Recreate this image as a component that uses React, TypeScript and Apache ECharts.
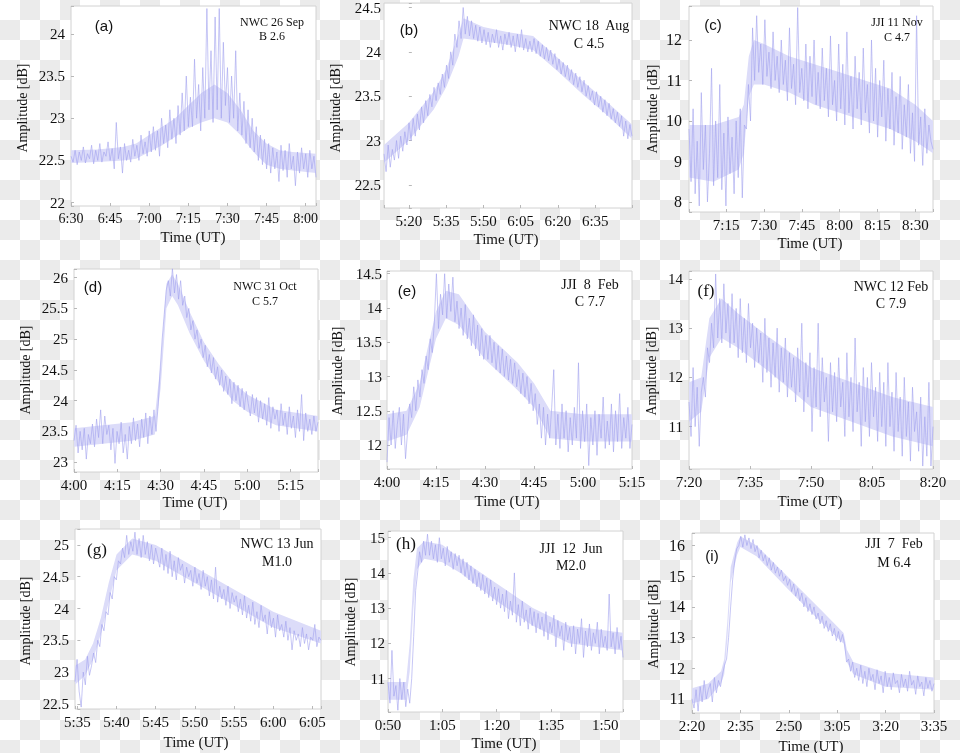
import React, { useEffect, useRef } from 'react';
import * as echarts from 'echarts';

// ---------- data ----------
const panelLetters = ['(a)', '(b)', '(c)', '(d)', '(e)', '(f)', '(g)', '(h)', '(i)'];
const stationDate = ['NWC 26 Sep', 'NWC 18  Aug', 'JJI 11 Nov', 'NWC 31 Oct', 'JJI  8  Feb', 'NWC 12 Feb', 'NWC 13 Jun', 'JJI  12  Jun', 'JJI  7  Feb'];
const flareClass = ['B 2.6', 'C 4.5', 'C 4.7', 'C 5.7', 'C 7.7', 'C 7.9', 'M1.0', 'M2.0', 'M 6.4'];

// time axis, minutes after 0:00 UT
const timeStart = [390, 310, 420.3, 240, 240, 440, 334.7, 50, 140];
const timeEnd = [484, 409.8, 517, 324.5, 315, 500, 366.1, 114.9, 215];
const timeTickOrigin = [390, 320, 420, 240, 240, 440, 335, 50, 140];
const timeTickStep = [15, 15, 15, 15, 15, 15, 5, 15, 15];

// amplitude axis, dB
const ampMin = [21.96, 22.24, 7.75, 22.84, 11.65, 10.14, 22.42, 10.05, 10.54];
const ampMax = [24.33, 24.55, 12.84, 26.14, 14.54, 14.16, 25.25, 15.19, 16.41];
const ampTickStep = [0.5, 0.5, 1, 0.5, 0.5, 1, 0.5, 1, 1];

// amplitude samples (evenly spaced in time over each panel's window)
const ampA = [
  22.55, 22.48, 22.62, 22.45, 22.6, 22.5, 22.66, 22.47, 22.58, 22.52, 22.68, 22.46, 22.62, 22.5, 22.7, 22.48, 22.6, 22.55, 22.72, 22.5, 22.64, 22.4, 22.95, 22.52, 22.66, 22.35,
  22.7, 22.5, 22.62, 22.48, 22.75, 22.55, 22.68, 22.5, 22.8, 22.58, 22.72, 22.55, 22.85,
  22.6, 22.9, 22.62, 22.85, 22.55, 23.0, 22.7, 22.92, 22.65, 23.1, 22.75, 23.0, 22.7,
  23.15, 22.8, 23.3, 22.85, 23.5, 22.9,
  23.25, 22.9, 23.7, 23.0, 23.4, 22.85,
  23.6, 23.0, 24.3, 23.1, 23.8, 22.95, 24.2,
  23.1, 24.3, 23.0, 23.9, 23.15, 23.6,
  22.95, 23.5, 23.0, 23.8, 22.85, 23.3,
  22.8, 23.2, 22.7, 23.1, 22.65, 23.0, 22.6,
  22.9, 22.5, 22.8, 22.45, 22.75, 22.4,
  22.7, 22.35, 22.65, 22.4, 22.6, 22.25, 22.68, 22.38, 22.62, 22.3, 22.7, 22.4, 22.55, 22.2, 22.6, 22.35, 22.65, 22.4, 22.58, 22.3, 22.62, 22.4, 22.55, 22.3,
];
const ampB = [
  22.85, 22.65, 22.95, 22.7, 22.9, 22.78, 23.0, 22.8, 23.05, 22.88, 23.1, 22.95, 23.2, 23.0, 23.25, 23.05, 23.3, 23.12, 23.38, 23.2, 23.45, 23.28, 23.52, 23.38, 23.6, 23.45, 23.65, 23.52, 23.75, 23.6,
  23.85, 23.7, 24.0, 23.85, 24.2, 24.05, 24.35, 24.15, 24.5,
  24.2, 24.4, 24.18, 24.35, 24.15, 24.3,
  24.12, 24.28, 24.1, 24.25, 24.08, 24.22, 24.05, 24.2, 24.1, 24.25, 24.05, 24.18, 24.02, 24.2, 24.08, 24.22, 24.05, 24.18, 24.0, 24.2, 24.05, 24.25, 24.02, 24.15, 24.0, 24.12,
  24.0, 24.15, 23.98, 24.12, 23.95, 24.08, 23.92, 24.05, 23.9, 24.02, 23.86, 23.98, 23.8,
  23.92, 23.75, 23.88, 23.72, 23.85, 23.68, 23.8, 23.63, 23.76, 23.6, 23.72, 23.55, 23.68, 23.5, 23.62, 23.46, 23.56,
  23.4, 23.55, 23.38, 23.5, 23.32, 23.46, 23.28, 23.42, 23.24, 23.36, 23.2, 23.32, 23.16, 23.28, 23.05, 23.22, 23.02, 23.18, 23.05,
];
const ampC = [
  9.8, 8.5, 10.3, 8.2, 9.5, 7.9, 10.7, 8.8, 9.9, 8.0, 9.2, 11.3, 8.4, 10.0, 8.6, 10.9, 8.3, 9.7, 7.9, 10.1, 8.7, 9.6, 8.2, 10.0, 8.6, 10.3, 8.1, 9.9,
  9.8, 10.9, 10.0, 12.3, 11.0,
  12.6, 11.2, 11.9, 10.9, 12.5, 11.1, 11.7, 10.8, 12.2, 11.0, 11.6, 10.7,
  12.0, 10.9, 11.5, 10.5, 12.3, 10.8, 11.4, 10.4, 12.8, 10.7, 11.3, 10.5, 11.9, 10.3, 11.6, 10.6, 12.0, 10.4, 11.2,
  10.3, 11.8, 10.5, 11.3, 10.1, 12.1, 10.4, 11.0, 10.0, 11.9, 10.3, 11.4, 9.9, 12.2, 10.2, 11.1, 9.8, 11.6, 10.3,
  11.2, 9.9, 11.8, 10.2, 10.9, 9.7, 12.0, 10.0, 11.3, 9.6, 11.0, 10.1, 11.5, 9.5, 10.8, 9.8, 11.2, 9.4, 10.6,
  9.7, 11.1, 9.3, 10.4, 9.6, 10.9, 9.2, 10.2, 9.0, 12.6, 9.4, 10.1, 8.9, 10.3, 9.2, 9.9, 9.5, 9.3,
];
const ampD = [
  23.35, 23.6, 23.15, 23.5, 23.2, 23.55, 23.05, 23.45, 23.3, 23.62, 23.25, 23.7, 23.4, 23.85, 23.3, 23.75, 23.45, 23.6, 23.2, 23.55, 22.98, 23.5, 23.3, 23.65, 23.15, 23.45, 23.05, 23.58, 23.3, 23.72, 23.35, 23.62, 23.25, 23.7, 23.4, 23.8, 23.3, 23.75, 23.45, 23.85, 23.5,
  23.9, 24.5, 25.0, 25.4, 25.8, 25.95,
  25.7, 26.15, 25.75, 26.05, 25.65, 25.95, 25.55,
  25.7, 25.35, 25.5, 25.15, 25.3, 25.0, 25.15, 24.85, 25.0, 24.7, 24.9, 24.55, 24.75,
  24.45, 24.7, 24.35, 24.55, 24.25, 24.5, 24.15, 24.4, 24.1, 24.35, 23.95, 24.3, 24.0, 24.25, 23.9, 24.2, 23.85, 24.15, 23.95,
  23.75, 24.1, 23.8, 24.05, 23.65, 24.0, 23.7, 23.95, 23.6, 24.05, 23.55, 23.9, 23.7, 23.85, 23.5, 23.95, 23.6, 23.8, 23.45, 23.9, 23.55, 23.75, 23.4, 23.85, 23.5, 24.1, 23.35, 23.8, 23.5, 23.7, 23.45, 23.75, 23.5, 23.65,
];
const ampE = [
  11.75, 12.4, 12.0, 12.5, 11.95, 12.3, 12.55, 12.0, 12.45, 11.8,
  12.2, 12.6, 12.4, 12.85, 12.5, 12.95, 12.7, 13.1, 12.9, 13.3, 13.1, 13.55, 13.35, 13.8,
  14.5, 13.7, 14.2, 13.9, 14.5, 13.85, 14.35, 13.95, 14.45, 13.8,
  14.1, 13.7, 14.0, 13.6, 14.05, 13.55, 13.85, 13.45, 13.9, 13.4, 13.75, 13.3, 13.7, 13.25, 13.6,
  13.25, 13.6, 13.2, 13.5, 13.1, 13.45, 13.05, 13.4, 13.0, 13.3, 12.95, 13.25, 12.9, 13.2, 12.85, 13.1, 12.75, 13.05, 12.7, 13.0, 12.6, 12.9, 12.5,
  12.75, 12.3, 12.6, 12.1, 12.55, 12.0, 12.45, 12.1,
  12.55, 13.1, 12.0, 12.45, 11.95, 12.6, 12.1, 12.5, 11.9, 12.4, 12.0, 12.55, 12.1, 13.2, 11.95, 12.5, 12.05, 12.6, 11.7, 12.4, 12.0, 12.5, 11.85, 12.45, 12.1, 12.7, 11.95, 12.35, 12.0, 12.6, 11.9, 12.5, 12.05, 12.75, 11.95, 12.4, 12.1, 12.55, 11.95, 12.3,
];
const ampF = [
  11.5, 10.8, 12.2, 11.0, 11.8, 10.6, 11.7,
  12.0, 11.6, 12.6, 12.3, 13.1,
  12.6, 14.1, 12.8, 13.6, 12.7, 13.9, 12.9, 13.5, 12.6, 13.7,
  12.7, 13.4, 12.4, 13.6, 12.5, 13.2, 12.3, 13.5, 12.6, 13.1,
  12.2, 13.0, 12.3, 12.9, 11.9, 13.2, 12.1, 12.8, 11.8, 12.7, 12.0, 13.0, 11.7, 12.6, 11.9, 12.8, 11.6, 12.5, 11.8, 12.4,
  11.5, 12.6, 11.7, 13.1, 11.3, 12.3, 11.6, 12.5, 10.9, 12.2, 11.4, 13.1, 11.2, 12.4, 11.5, 12.0, 10.7, 12.3, 11.3, 12.1,
  11.1, 12.4, 11.4, 11.9, 10.8, 12.5, 11.2, 12.0, 10.9, 12.8, 11.3, 11.9, 10.6, 12.2, 11.1, 12.0, 10.8, 12.3, 11.2, 11.8, 10.7, 12.1, 11.0, 11.9,
  10.6, 12.3, 11.0, 11.7, 10.5, 12.1, 10.9, 11.6, 10.4, 12.0, 10.8, 11.5, 10.3, 11.8, 10.9, 11.3, 10.5, 11.6, 10.2, 11.2, 10.4, 11.9, 10.2, 11.0,
];
const ampG = [
  22.85, 23.2, 22.7, 22.45, 23.0, 22.8, 23.25, 22.95, 23.1,
  23.3, 23.15, 23.5, 23.4, 23.75, 23.65,
  23.95, 23.9, 24.25, 24.15, 24.5, 24.45, 24.75,
  24.7, 24.95, 24.8, 25.15, 24.85, 25.05, 24.9, 25.2, 24.85, 25.1, 24.8, 25.15, 24.85, 25.05, 24.75, 25.0, 24.7, 24.95, 24.8,
  24.65, 24.95, 24.6, 24.85, 24.55, 24.9, 24.5, 24.75, 24.45, 24.8, 24.6, 24.7, 24.4, 24.65, 24.5, 24.6, 24.35, 24.65, 24.4, 24.55,
  24.3, 24.6, 24.35, 24.5, 24.2, 24.45, 24.15, 24.65, 24.1, 24.35, 24.15, 24.3, 24.05, 24.35, 24.0, 24.25, 24.1, 24.2, 23.95, 24.15,
  23.9, 24.2, 23.85, 24.05, 23.8, 24.1, 23.75, 23.95, 23.7, 24.05, 23.8, 23.9, 23.6, 23.95, 23.7, 23.85, 23.55, 23.9, 23.65, 23.75,
  23.55, 23.8, 23.5, 23.7, 23.35, 23.65, 23.5, 23.6, 23.4, 23.7, 23.45, 23.6, 23.35, 23.55, 23.5, 23.75, 23.4, 23.55, 23.5,
];
const ampH = [
  10.9, 10.3, 11.8, 10.5, 10.8, 10.1, 11.0, 10.4, 10.9, 10.2, 10.7, 10.3,
  11.0, 12.2, 13.5,
  14.0, 14.6, 14.3, 14.9, 14.5, 15.1,
  14.5, 14.9, 14.4, 14.8, 14.3, 15.0, 14.4, 14.7, 14.2, 14.75, 14.3, 14.6, 14.1, 14.55, 14.2, 14.5, 14.0, 14.4,
  13.9, 14.3, 13.8, 14.2, 13.7, 14.1, 13.6, 14.0, 13.5, 13.95, 13.4, 13.85, 13.3, 13.8, 13.2, 13.6, 13.1, 13.55,
  13.0, 13.4, 12.9, 13.5, 12.7, 13.2, 12.8, 14.0, 12.6, 13.1, 12.5, 13.2, 12.6, 12.95, 12.4, 13.0, 12.5, 12.9,
  12.3, 12.85, 12.4, 12.75, 12.2, 12.9, 12.1, 12.6, 12.3, 12.8, 11.9, 12.65, 12.2, 12.5, 11.8, 12.6, 12.1, 12.45, 11.9,
  12.5, 11.7, 12.4, 12.0, 12.7, 11.6, 12.35, 11.9, 12.55, 11.8, 12.3, 12.0, 12.6, 11.7, 12.4, 11.9, 12.2, 11.8, 13.4, 11.9, 12.3, 11.7, 12.45, 11.85, 12.2, 11.6,
];
const ampI = [
  11.0, 10.7, 11.3, 10.6, 11.4, 10.9, 11.6, 11.0, 11.3, 11.5, 10.9, 11.7, 11.2, 11.6, 11.4,
  11.8, 12.1, 12.3, 13.0,
  14.0, 14.9, 15.5, 15.9, 16.0,
  16.3, 15.95, 16.35, 16.0, 16.25, 15.9, 16.2, 15.8,
  16.0, 15.6, 15.85, 15.5, 15.7, 15.35, 15.6, 15.2, 15.45, 15.1, 15.3, 15.0,
  15.2, 14.85, 15.0, 14.7, 14.9, 14.5, 14.75, 14.35, 14.6, 14.2, 14.45, 14.0, 14.3, 13.85, 14.1, 13.75,
  14.0, 13.6, 13.8, 13.45, 13.7, 13.3, 13.55, 13.2, 13.45, 13.05, 13.3, 12.9, 13.2, 12.85, 13.1, 12.8, 12.2, 12.3, 11.9,
  12.2, 11.7, 12.0, 11.6, 12.1, 11.5, 11.9, 11.4, 12.0, 11.6, 11.8, 11.3, 11.95, 11.5, 11.75, 11.2, 11.9, 11.4, 11.7, 11.3, 11.85, 11.5, 11.6, 11.2, 11.8, 11.4, 11.65, 11.25, 11.9, 11.45, 11.6, 11.15, 11.75, 11.4, 11.55, 11.1, 11.7, 11.35, 11.6, 11.25, 11.5,
];
const amplitudes = [ampA, ampB, ampC, ampD, ampE, ampF, ampG, ampH, ampI];

// dense core of the noisy trace (band envelope)
const bandTime = [
  [390, 400, 410, 415, 420, 425, 430, 435, 440, 445, 450, 455, 460, 465, 470, 475, 484],
  [310, 320, 330, 335, 340, 342, 350, 360, 370, 380, 390, 400, 409.8],
  [420.3, 430, 440, 442, 444, 446, 450, 460, 470, 480, 490, 500, 510, 517],
  [240, 250, 260, 268, 270, 272, 274, 276, 280, 285, 290, 295, 300, 310, 324.5],
  [240, 246, 250, 255, 258, 262, 270, 280, 285, 290, 300, 315],
  [440, 443, 445, 448, 452, 460, 470, 480, 490, 500],
  [334.7, 336, 337, 338, 339, 340, 342, 345, 350, 355, 360, 366.1],
  [50, 55, 56, 57, 58, 60, 65, 70, 80, 90, 100, 114.9],
  [140, 145, 149, 150, 151, 152, 154, 155, 160, 170, 180, 187, 188, 190, 200, 215],
];
const bandLow = [
  [22.47, 22.48, 22.5, 22.52, 22.6, 22.68, 22.78, 22.88, 22.95, 23.0, 22.95, 22.8, 22.6, 22.45, 22.4, 22.38, 22.35],
  [22.75, 23.0, 23.35, 23.6, 23.95, 24.15, 24.12, 24.08, 24.02, 23.78, 23.52, 23.28, 23.02],
  [8.6, 8.5, 8.8, 9.2, 10.6, 10.9, 10.9, 10.7, 10.4, 10.2, 10.0, 9.8, 9.5, 9.2],
  [23.25, 23.3, 23.35, 23.45, 24.2, 25.5, 25.7, 25.55, 25.1, 24.65, 24.3, 24.0, 23.82, 23.6, 23.5],
  [12.05, 12.15, 12.55, 13.55, 13.85, 13.75, 13.25, 12.8, 12.55, 12.1, 12.05, 12.05],
  [11.1, 11.3, 12.4, 12.8, 12.6, 12.1, 11.4, 11.1, 10.8, 10.6],
  [22.8, 22.95, 23.2, 23.6, 24.1, 24.6, 24.85, 24.75, 24.4, 24.05, 23.7, 23.45],
  [10.4, 10.4, 11.2, 13.0, 14.1, 14.4, 14.3, 14.0, 13.2, 12.5, 12.0, 11.8],
  [10.85, 11.0, 11.5, 11.8, 13.0, 14.8, 15.7, 15.95, 15.65, 14.55, 13.5, 12.8, 12.2, 11.8, 11.4, 11.3],
];
const bandHigh = [
  [22.62, 22.63, 22.66, 22.7, 22.8, 22.9, 23.0, 23.15, 23.3, 23.4, 23.3, 23.1, 22.85, 22.7, 22.62, 22.6, 22.58],
  [22.95, 23.2, 23.55, 23.8, 24.2, 24.38, 24.28, 24.22, 24.18, 23.93, 23.67, 23.43, 23.18],
  [9.9, 9.9, 10.1, 10.4, 11.6, 12.0, 11.9, 11.6, 11.4, 11.2, 11.0, 10.8, 10.4, 10.0],
  [23.55, 23.6, 23.65, 23.75, 24.6, 25.9, 26.05, 25.9, 25.45, 24.95, 24.6, 24.3, 24.1, 23.85, 23.75],
  [12.45, 12.5, 12.9, 13.95, 14.25, 14.2, 13.65, 13.2, 12.9, 12.5, 12.45, 12.45],
  [11.9, 12.0, 13.2, 13.6, 13.3, 12.8, 12.2, 11.9, 11.6, 11.4],
  [23.1, 23.2, 23.45, 23.85, 24.4, 24.85, 25.1, 25.0, 24.65, 24.3, 23.95, 23.65],
  [10.9, 10.9, 12.0, 13.8, 14.7, 14.9, 14.8, 14.4, 13.7, 13.0, 12.5, 12.3],
  [11.35, 11.5, 11.9, 12.3, 13.6, 15.3, 16.1, 16.3, 16.0, 14.95, 13.9, 13.15, 12.6, 12.2, 11.85, 11.7],
];

// ---------- layout (pixels) ----------
const gridBoxes = [
  { left: 71, top: 6, width: 245, height: 200 },
  { left: 384, top: 1, width: 248, height: 207 },
  { left: 689, top: 6, width: 244, height: 206 },
  { left: 74, top: 269, width: 244, height: 203 },
  { left: 387, top: 271, width: 245, height: 198 },
  { left: 689, top: 271, width: 244, height: 198 },
  { left: 75, top: 529, width: 246, height: 180 },
  { left: 388, top: 531, width: 235, height: 181 },
  { left: 692, top: 533, width: 242, height: 180 },
];
const yLabelMargin = [6, 3, 7, 6, 5, 6, 6, 3, 7];
const yLabelSize = [15, 15, 16, 15, 15, 15, 15, 15, 16];
const xLabelSize = [14, 15, 15, 15, 15, 15, 15, 15, 15];
const yTitlePos = [[22, 108], [335, 108], [652, 109], [25, 370], [337, 371], [651, 371], [25, 621], [350, 622], [653, 624]];
const xTitlePos = [[193, 237], [506, 239], [810, 243], [195, 502], [507, 501], [810, 501], [196, 742], [504, 743], [811, 746]];
const letterPos = [[104, 25], [409, 29], [713, 24], [93, 286], [407, 290], [706, 290], [97, 549], [406, 543], [712, 555]];
const letterSerif = [false, false, false, false, false, true, true, true, false];
const notePos = [[272, 22, 36, 12], [589, 25, 43, 14], [897, 22, 37, 12], [265, 286, 301, 12], [590, 284, 301, 14], [891, 286, 303, 14], [277, 543, 561, 14], [571, 548, 565, 14], [894, 543, 562, 14]];

const SERIF = '"Liberation Serif", "Times New Roman", serif';
const SANS = '"Liberation Sans", Arial, sans-serif';
const TRACE = '#a0a0ee';
const BAND = '#dcdcf9';

function fmtTime(origin: number, step: number) {
  return (v: number) => {
    const r = Math.round(v);
    if (Math.abs(v - r) > 1e-6 || r % step !== 0) return '';
    const t = r + origin;
    const h = Math.floor(t / 60);
    const m = t % 60;
    return h + ':' + String(m).padStart(2, '0');
  };
}
function fmtAmp(step: number) {
  return (v: number) => {
    const k = v / step;
    if (Math.abs(k - Math.round(k)) > 1e-6) return '';
    return String(Math.round(v * 10) / 10);
  };
}

function textEl(x: number, y: number, text: string, size: number, family: string, rotate = 0) {
  return {
    type: 'text',
    x,
    y,
    rotation: rotate,
    silent: true,
    z: 10,
    style: {
      text,
      fontSize: size,
      fontFamily: family,
      fill: '#111',
      align: 'center',
      verticalAlign: 'middle',
      textAlign: 'center',
      textVerticalAlign: 'middle',
    },
  };
}

export default function App() {
  const ref = useRef<HTMLDivElement>(null);
  useEffect(() => {
    if (!ref.current) return;
    const chart = echarts.init(ref.current, undefined, { renderer: 'svg' });
    const n = amplitudes.length;
    const grids = gridBoxes.map((g) => ({
      ...g,
      show: true,
      borderColor: '#d2d2d2',
      borderWidth: 1,
      backgroundColor: '#ffffff',
    }));
    const xAxes = amplitudes.map((_, i) => ({
      gridIndex: i,
      type: 'value',
      min: timeStart[i] - timeTickOrigin[i],
      max: timeEnd[i] - timeTickOrigin[i],
      minInterval: timeTickStep[i],
      maxInterval: timeTickStep[i],
      axisLine: { show: false },
      axisTick: { show: true, inside: true, length: 3, lineStyle: { color: '#b8b8b8' } },
      splitLine: { show: false },
      axisLabel: {
        margin: 5,
        fontSize: xLabelSize[i],
        fontFamily: SERIF,
        color: '#111',
        showMinLabel: true,
        showMaxLabel: true,
        formatter: fmtTime(timeTickOrigin[i], timeTickStep[i]),
      },
    }));
    const yAxes = amplitudes.map((_, i) => ({
      gridIndex: i,
      type: 'value',
      min: ampMin[i],
      max: ampMax[i],
      minInterval: ampTickStep[i],
      maxInterval: ampTickStep[i],
      axisLine: { show: false },
      axisTick: { show: true, inside: true, length: 3, lineStyle: { color: '#b8b8b8' } },
      splitLine: { show: false },
      axisLabel: {
        margin: yLabelMargin[i],
        fontSize: yLabelSize[i],
        fontFamily: SERIF,
        color: '#111',
        showMinLabel: true,
        showMaxLabel: true,
        formatter: fmtAmp(ampTickStep[i]),
      },
    }));
    const series: any[] = [];
    for (let i = 0; i < n; i++) {
      const o = timeTickOrigin[i];
      const bt = bandTime[i];
      const bandData = bt.map((t, k) => [t - o, bandLow[i][k], bandHigh[i][k]]);
      series.push({
        type: 'custom',
        xAxisIndex: i,
        yAxisIndex: i,
        silent: true,
        z: 2,
        encode: { x: 0, y: [1, 2] },
        data: bandData,
        renderItem: (params: any, api: any) => {
          if (params.dataIndex !== 0) return null;
          const upper = bandData.map((d) => api.coord([d[0], d[2]]));
          const lower = bandData.map((d) => api.coord([d[0], d[1]])).reverse();
          return {
            type: 'polygon',
            shape: { points: upper.concat(lower) },
            style: { fill: BAND, stroke: 'none' },
          };
        },
      });
      const vals = amplitudes[i];
      const span = timeEnd[i] - timeStart[i];
      series.push({
        type: 'line',
        xAxisIndex: i,
        yAxisIndex: i,
        showSymbol: false,
        symbol: 'none',
        silent: true,
        z: 3,
        lineStyle: { color: TRACE, width: 0.7, opacity: 0.85 },
        data: vals.map((v, k) => [timeStart[i] - o + (span * k) / (vals.length - 1), v]),
      });
    }
    const graphics: any[] = [];
    for (let i = 0; i < n; i++) {
      graphics.push(textEl(yTitlePos[i][0], yTitlePos[i][1], 'Amplitude [dB]', 14, SERIF, Math.PI / 2));
      graphics.push(textEl(xTitlePos[i][0], xTitlePos[i][1], 'Time (UT)', 15, SERIF));
      graphics.push(textEl(letterPos[i][0], letterPos[i][1], panelLetters[i], letterSerif[i] ? 17 : 15, letterSerif[i] ? SERIF : SANS));
      const [nx, ny1, ny2, ns] = notePos[i];
      graphics.push(textEl(nx, ny1, stationDate[i], ns, SERIF));
      graphics.push(textEl(nx, ny2, flareClass[i], ns, SERIF));
    }
    chart.setOption({
      animation: false,
      backgroundColor: 'transparent',
      grid: grids,
      xAxis: xAxes,
      yAxis: yAxes,
      series,
      graphic: { elements: graphics },
    });
    return () => chart.dispose();
  }, []);
  return (
    <div
      ref={ref}
      style={{
        position: 'fixed',
        left: 0,
        top: 0,
        width: 960,
        height: 753,
        background: 'repeating-conic-gradient(#ebebeb 0% 25%, #ffffff 0% 50%) 0 0 / 40px 40px',
      }}
    />
  );
}
